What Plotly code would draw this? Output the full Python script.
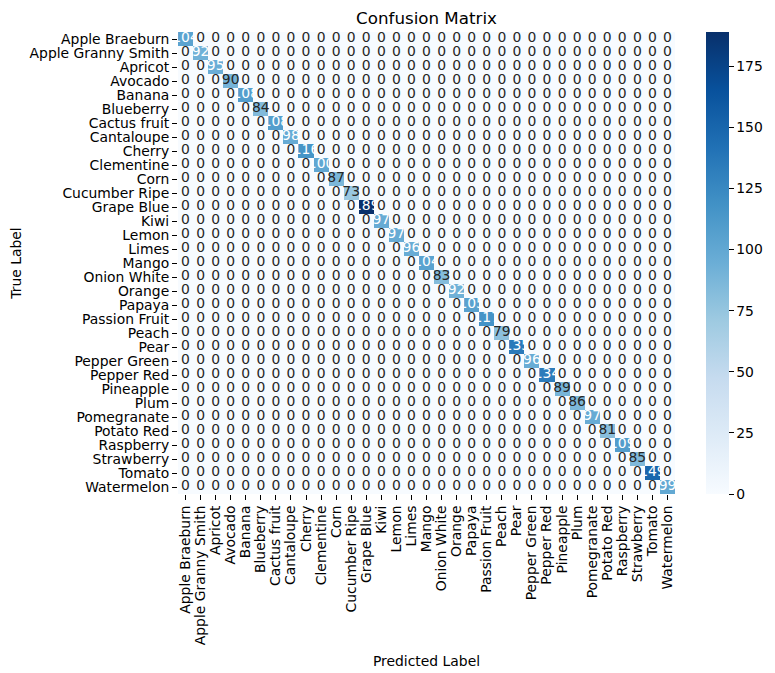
import plotly.graph_objects as go
import plotly.express as px
from plotly.colors import sample_colorscale, unlabel_rgb

# class names (same order on both axes)
labels = ['Apple Braeburn', 'Apple Granny Smith', 'Apricot', 'Avocado', 'Banana',
          'Blueberry', 'Cactus fruit', 'Cantaloupe', 'Cherry', 'Clementine', 'Corn',
          'Cucumber Ripe', 'Grape Blue', 'Kiwi', 'Lemon', 'Limes', 'Mango',
          'Onion White', 'Orange', 'Papaya', 'Passion Fruit', 'Peach', 'Pear',
          'Pepper Green', 'Pepper Red', 'Pineapple', 'Plum', 'Pomegranate',
          'Potato Red', 'Raspberry', 'Strawberry', 'Tomato', 'Watermelon']

# correct predictions per class (diagonal), all off-diagonal cells are 0
diagonal = [104, 92, 95, 90, 108, 84, 108, 98, 116, 100, 87,
            73, 189, 97, 97, 96, 104, 83, 92, 105, 117, 79,
            135, 96, 134, 89, 86, 97, 81, 109, 85, 149, 99]

cbar_ticks = [0, 25, 50, 75, 100, 125, 150, 175]

n = len(labels)
matrix = [[diagonal[i] if i == j else 0 for j in range(n)] for i in range(n)]

blues = px.colors.sequential.Blues
zmax = max(diagonal)
fs = 13.9


def text_color(v):
    # seaborn style: dark text on light cells, white on dark ones
    c = sample_colorscale(blues, [v / zmax])[0]
    r, g, b = [x / 255 for x in unlabel_rgb(c)]
    lin = [x / 12.92 if x <= 0.03928 else ((x + 0.055) / 1.055) ** 2.4 for x in (r, g, b)]
    lum = 0.2126 * lin[0] + 0.7152 * lin[1] + 0.0722 * lin[2]
    return '#262626' if lum > 0.408 else 'white'


xs, ys, txt, cols = [], [], [], []
for i in range(n):
    for j in range(n):
        xs.append(labels[j])
        ys.append(labels[i])
        txt.append(str(matrix[i][j]))
        cols.append(text_color(matrix[i][j]))

fig = go.Figure()
fig.add_trace(go.Heatmap(
    z=matrix, x=labels, y=labels,
    colorscale=blues, zmin=0, zmax=zmax,
    colorbar=dict(
        thickness=23, len=1, lenmode='fraction', y=0.5, yanchor='middle',
        x=1.062, xanchor='left', xpad=0, ypad=0, outlinewidth=0,
        tickvals=cbar_ticks, ticks='outside', ticklen=5, tickcolor='black',
        tickfont=dict(family='DejaVu Sans', size=fs, color='black'),
    ),
))
fig.add_trace(go.Scatter(
    x=xs, y=ys, mode='text', text=txt,
    textfont=dict(family='DejaVu Sans', size=fs, color=cols),
    hoverinfo='skip', showlegend=False, cliponaxis=False,
))

# the page body adds an 8px offset, so margins are trimmed accordingly
fig.update_layout(
    width=775, height=673,
    margin=dict(l=170, r=108, t=24, b=187),
    plot_bgcolor='white', paper_bgcolor='white',
    font=dict(family='DejaVu Sans', color='black', size=fs),
    title=dict(text='Confusion Matrix', x=0.5, xref='paper', xanchor='center',
               y=1 - 10 / 673, yref='container', yanchor='middle',
               font=dict(size=16.7)),
    xaxis=dict(
        title=dict(text='Predicted Label', standoff=12, font=dict(size=fs)),
        tickangle=-90, ticks='outside', ticklen=5, tickcolor='black',
        showgrid=False, zeroline=False, showline=False, automargin=False,
        tickmode='array', tickvals=labels,
        categoryorder='array', categoryarray=labels,
        range=[-0.5, n - 0.5],
        tickfont=dict(size=fs),
    ),
    yaxis=dict(
        title=dict(text='True Label', standoff=8, font=dict(size=fs)),
        ticks='outside', ticklen=5, tickcolor='black',
        showgrid=False, zeroline=False, showline=False, automargin=False,
        tickmode='array', tickvals=labels,
        categoryorder='array', categoryarray=labels,
        range=[n - 0.5, -0.5],
        tickfont=dict(size=fs),
    ),
)

fig.write_html('out.html')
